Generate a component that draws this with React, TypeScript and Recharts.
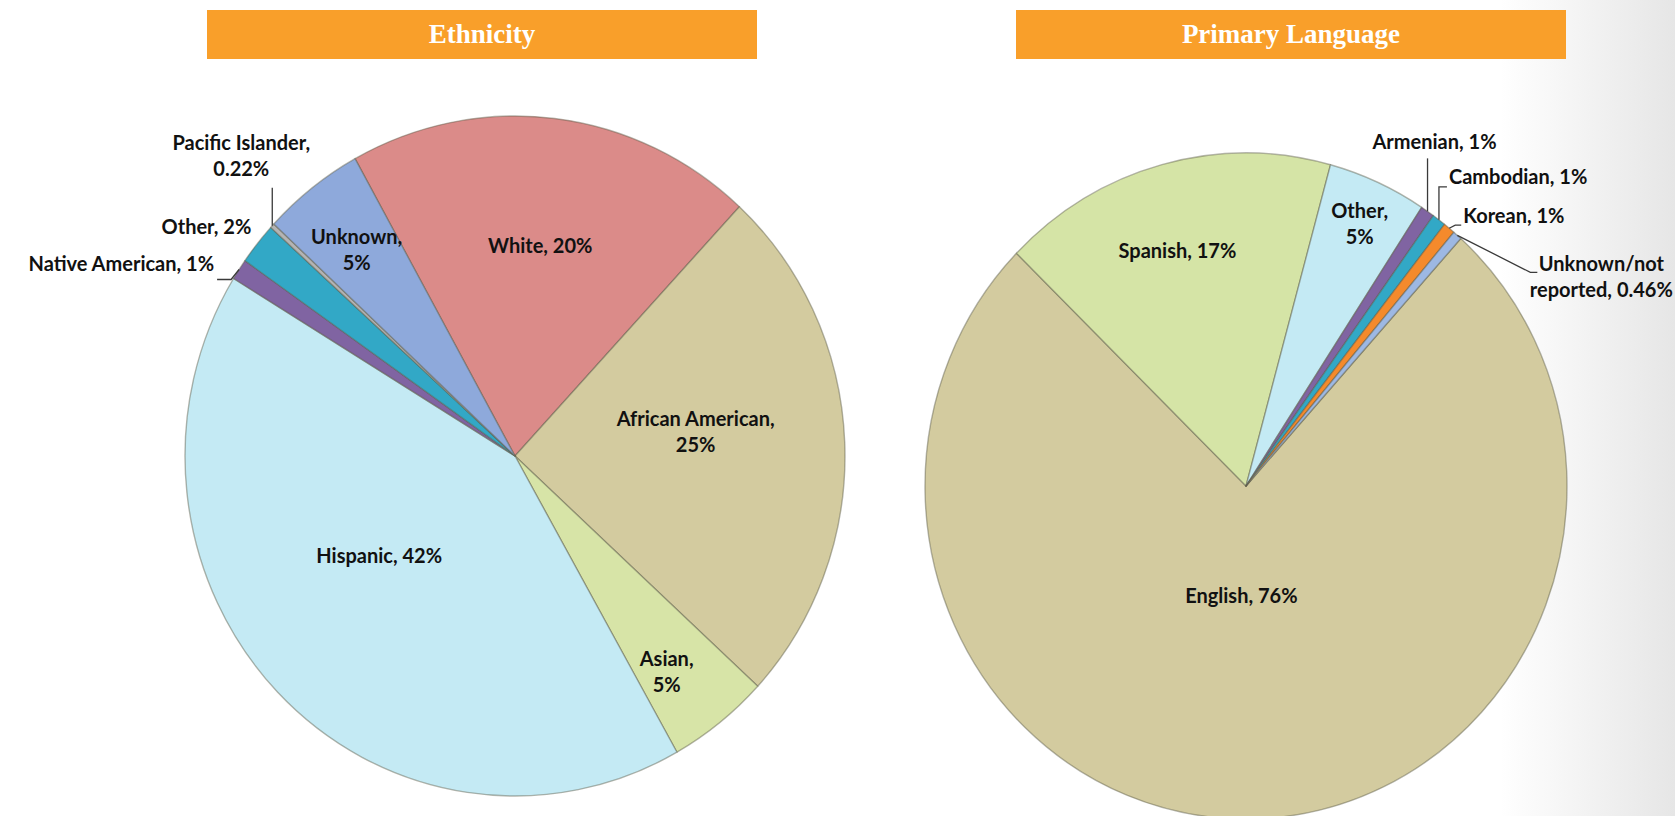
import { Cell, Pie, PieChart } from 'recharts';

// Ethnicity pie (clockwise, starting with White)
const ethnicityNames = [
  'White',
  'African American',
  'Asian',
  'Hispanic',
  'Native American',
  'Other',
  'Pacific Islander',
  'Unknown',
];
const ethnicityValues = [20, 25, 5, 42, 1, 2, 0.22, 5];
const ethnicityColors = ['#DB8B89', '#D3CB9F', '#D7E4A7', '#C4EAF4', '#8064A2', '#32A8C6', '#B4B4B4', '#8EA9DB'];

// Primary language pie (clockwise, starting with English)
const languageNames = ['English', 'Spanish', 'Other', 'Armenian', 'Cambodian', 'Korean', 'Unknown/not reported'];
const languageValues = [76, 17, 5, 0.7, 0.7, 0.6, 0.46];
const languageColors = ['#D3CB9F', '#D5E4A6', '#C4EAF4', '#8064A2', '#32A8C6', '#F48A2C', '#9DB8E3'];

const titles = ['Ethnicity', 'Primary Language'];

const FONT = 'Lato, Roboto, sans-serif';
const RAD = Math.PI / 180;

type Layout = {
  inside?: boolean;
  r?: number;
  dx: number;
  dy: number;
  anchor?: 'start' | 'middle' | 'end';
  wrap?: 'none' | 'comma' | 'unknown';
  leader?: number[][];
};

// label placement, keyed by name (offsets from the slice point)
const ethnicityLayout: Record<string, Layout> = {
  White: { inside: true, r: 0.61, dx: 1, dy: -4, wrap: 'none' },
  'African American': { inside: true, r: 0.56, dx: -4, dy: -17, wrap: 'comma' },
  Asian: { inside: true, r: 0.75, dx: -2, dy: 16, wrap: 'comma' },
  Hispanic: { inside: true, r: 0.5, dx: -17, dy: -18, wrap: 'none' },
  Unknown: { inside: true, r: 0.76, dx: -4, dy: -2, wrap: 'comma' },
  'Native American': { dx: -25, dy: -5, anchor: 'end', wrap: 'none', leader: [[0, 0], [-8, 10], [-22, 10]] },
  Other: { dx: -6, dy: -17, anchor: 'end', wrap: 'none' },
  'Pacific Islander': { dx: -31, dy: -70, anchor: 'middle', wrap: 'comma', leader: [[0, 0], [0, -38]] },
};

const languageLayout: Record<string, Layout> = {
  English: { inside: true, r: 0.33, dx: -8, dy: 0, wrap: 'none' },
  Spanish: { inside: true, r: 0.72, dx: -8, dy: -4, wrap: 'none' },
  Other: { inside: true, r: 0.84, dx: 3, dy: -7, wrap: 'comma' },
  Armenian: { dx: 7, dy: -69, anchor: 'middle', wrap: 'none', leader: [[0, 0], [0, -53]] },
  Cambodian: { dx: 10, dy: -43, anchor: 'start', wrap: 'none', leader: [[0, 0], [0, -33], [8, -33]] },
  Korean: { dx: 14, dy: -12, anchor: 'start', wrap: 'none', leader: [[0, 0], [6, -3], [12, -3]] },
  'Unknown/not reported': {
    dx: 144,
    dy: 42,
    anchor: 'middle',
    wrap: 'unknown',
    leader: [[0, 0], [73, 37], [80, 37]],
  },
};

const ethnicityData = ethnicityNames.map((name, i) => ({ name, value: ethnicityValues[i] }));
const languageData = languageNames.map((name, i) => ({ name, value: languageValues[i] }));

const pct = (v: number) => (v < 0.5 ? `${v.toFixed(2)}%` : `${Math.round(v)}%`);

const ellipsePoint = (cx: number, cy: number, rx: number, ry: number, angle: number) => [
  cx + rx * Math.cos(-angle * RAD),
  cy + ry * Math.sin(-angle * RAD),
];

function makeSector(ratio: number) {
  return (props: any) => {
    const { cx, cy, outerRadius, startAngle, endAngle, fill } = props;
    const rx = outerRadius;
    const ry = outerRadius * ratio;
    const [x0, y0] = ellipsePoint(cx, cy, rx, ry, startAngle);
    const [x1, y1] = ellipsePoint(cx, cy, rx, ry, endAngle);
    const sweep = endAngle < startAngle ? 1 : 0;
    const large = Math.abs(endAngle - startAngle) > 180 ? 1 : 0;
    const d = `M${cx},${cy} L${x0},${y0} A${rx},${ry} 0 ${large} ${sweep} ${x1},${y1} Z`;
    return <path d={d} fill={fill} stroke="rgba(90,90,70,0.45)" strokeWidth={1.4} strokeLinejoin="round" />;
  };
}

function makeLabel(ratio: number, layout: Record<string, Layout>) {
  return (props: any) => {
    const { cx, cy, outerRadius, midAngle, name, value } = props;
    const cfg = layout[name];
    if (!cfg) return null;
    const rx = outerRadius;
    const ry = outerRadius * ratio;
    const r = cfg.inside ? cfg.r ?? 0.5 : 1;
    const [px, py] = ellipsePoint(cx, cy, rx * r, ry * r, midAngle);
    let lines = [`${name}, ${pct(value)}`];
    if (cfg.wrap === 'comma') lines = [`${name},`, pct(value)];
    if (cfg.wrap === 'unknown') lines = ['Unknown/not', `reported, ${pct(value)}`];
    const lh = 26;
    const tx = px + cfg.dx;
    const ty = py + cfg.dy - ((lines.length - 1) * lh) / 2;
    return (
      <g>
        {cfg.leader && (
          <polyline
            points={cfg.leader.map(([a, b]) => `${px + a},${py + b}`).join(' ')}
            fill="none"
            stroke="#3a3a3a"
            strokeWidth={1.3}
          />
        )}
        <text
          x={tx}
          y={ty}
          textAnchor={cfg.anchor ?? 'middle'}
          fontFamily={FONT}
          fontWeight="bold"
          fontSize={20}
          fill="#111"
        >
          {lines.map((l, i) => (
            <tspan key={i} x={tx} y={ty + i * lh} dy="0.35em">
              {l}
            </tspan>
          ))}
        </text>
      </g>
    );
  };
}

const ETH_RATIO = 340 / 330;
const LANG_RATIO = 333 / 321;

export default function App() {
  const titleStyle = (left: number): React.CSSProperties => ({
    position: 'absolute',
    left,
    top: 10,
    width: 550,
    height: 49,
    background: '#F99F2A',
    color: '#fff',
    fontFamily: "'Liberation Serif', 'DejaVu Serif', serif",
    fontWeight: 'bold',
    fontSize: 27,
    lineHeight: '49px',
    textAlign: 'center',
  });

  return (
    <div
      style={{
        position: 'absolute',
        left: 0,
        top: 0,
        width: 1675,
        height: 816,
        overflow: 'hidden',
        background: 'linear-gradient(to right, #ffffff 0px, #ffffff 1500px, #e6e6e6 1675px)',
      }}
    >
      <PieChart width={1675} height={816} style={{ position: 'absolute', left: 0, top: 0 }}>
        <Pie
          data={ethnicityData}
          dataKey="value"
          nameKey="name"
          cx={510}
          cy={451}
          outerRadius={330}
          startAngle={119}
          endAngle={-241}
          stroke="none"
          isAnimationActive={false}
          shape={makeSector(ETH_RATIO)}
          inactiveShape={makeSector(ETH_RATIO)}
          activeShape={makeSector(ETH_RATIO)}
          label={makeLabel(ETH_RATIO, ethnicityLayout)}
          labelLine={false}
        >
          {ethnicityColors.map((c, i) => (
            <Cell key={i} fill={c} />
          ))}
        </Pie>
        <Pie
          data={languageData}
          dataKey="value"
          nameKey="name"
          cx={1241}
          cy={481}
          outerRadius={321}
          startAngle={48}
          endAngle={-312}
          stroke="none"
          isAnimationActive={false}
          shape={makeSector(LANG_RATIO)}
          inactiveShape={makeSector(LANG_RATIO)}
          activeShape={makeSector(LANG_RATIO)}
          label={makeLabel(LANG_RATIO, languageLayout)}
          labelLine={false}
        >
          {languageColors.map((c, i) => (
            <Cell key={i} fill={c} />
          ))}
        </Pie>
      </PieChart>
      <div style={titleStyle(207)}>{titles[0]}</div>
      <div style={titleStyle(1016)}>{titles[1]}</div>
    </div>
  );
}
